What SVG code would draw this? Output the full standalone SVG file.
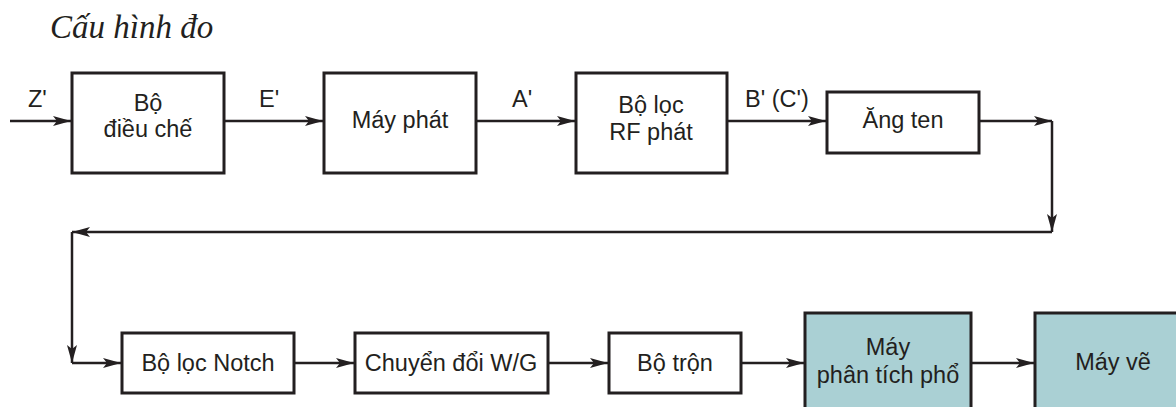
<svg xmlns="http://www.w3.org/2000/svg" width="1176" height="407" viewBox="0 0 1176 407">
<style>
.box{fill:#fff;stroke:#231f20;stroke-width:3}
.teal{fill:#aad0d4;stroke:#231f20;stroke-width:3}
.t{font-family:"Liberation Sans",Arial,sans-serif;font-size:23.5px;fill:#231f20;text-anchor:middle}
.l{font-family:"Liberation Sans",Arial,sans-serif;font-size:23.5px;fill:#231f20}
.c{fill:none;stroke:#231f20;stroke-width:2.5}
</style>
<defs>
<marker id="a" viewBox="0 0 18 10" refX="18" refY="5" markerWidth="18" markerHeight="10" markerUnits="userSpaceOnUse" orient="auto">
<path d="M0,0 L18,5 L0,10 L4,5 Z" fill="#231f20"/>
</marker>
</defs>
<text x="50" y="38" style="font-family:'Liberation Serif','Times New Roman',serif;font-style:italic;font-size:33px;fill:#231f20">Cấu hình đo</text>
<g id="connectors">
<path class="c" d="M10,121 H71" marker-end="url(#a)"/>
<path class="c" d="M224,121 H323" marker-end="url(#a)"/>
<path class="c" d="M476,121 H575" marker-end="url(#a)"/>
<path class="c" d="M727,121 H826" marker-end="url(#a)"/>
<path class="c" d="M979,121 H1052" marker-end="url(#a)"/>
<path class="c" d="M1052,121 V232" marker-end="url(#a)"/>
<path class="c" d="M1052,232 H72" marker-end="url(#a)"/>
<path class="c" d="M72,232 V363" marker-end="url(#a)"/>
<path class="c" d="M72,363 H121" marker-end="url(#a)"/>
<path class="c" d="M294,363 H354" marker-end="url(#a)"/>
<path class="c" d="M548,363 H608" marker-end="url(#a)"/>
<path class="c" d="M741,363 H804" marker-end="url(#a)"/>
<path class="c" d="M971,363 H1034" marker-end="url(#a)"/>
<text class="l" x="28" y="107">Z'</text>
<text class="l" x="259" y="107">E'</text>
<text class="l" x="512" y="107">A'</text>
<text class="l" x="745" y="107">B' (C')</text>
</g>
<g id="n1"><rect class="box" x="72" y="73" width="152" height="100"/><text class="t" x="148" y="111">Bộ</text><text class="t" x="148" y="137">điều chế</text></g>
<g id="n2"><rect class="box" x="324" y="73" width="152" height="100"/><text class="t" x="400" y="128">Máy phát</text></g>
<g id="n3"><rect class="box" x="576" y="73" width="151" height="100"/><text class="t" x="651" y="113">Bộ lọc</text><text class="t" x="651" y="140">RF phát</text></g>
<g id="n4"><rect class="box" x="827" y="92" width="152" height="61"/><text class="t" x="903" y="128">Ăng ten</text></g>
<g id="n5"><rect class="box" x="122" y="333" width="172" height="60"/><text class="t" x="208" y="371">Bộ lọc Notch</text></g>
<g id="n6"><rect class="box" x="355" y="333" width="193" height="60"/><text class="t" x="451" y="371">Chuyển đổi W/G</text></g>
<g id="n7"><rect class="box" x="609" y="333" width="132" height="60"/><text class="t" x="675" y="371">Bộ trộn</text></g>
<g id="n8"><rect class="teal" x="805" y="313" width="166" height="110"/><text class="t" x="888" y="355">Máy</text><text class="t" x="888" y="383">phân tích phổ</text></g>
<g id="n9"><rect class="teal" x="1035" y="313" width="160" height="110"/><text class="t" x="1113" y="370">Máy vẽ</text></g>
</svg>
